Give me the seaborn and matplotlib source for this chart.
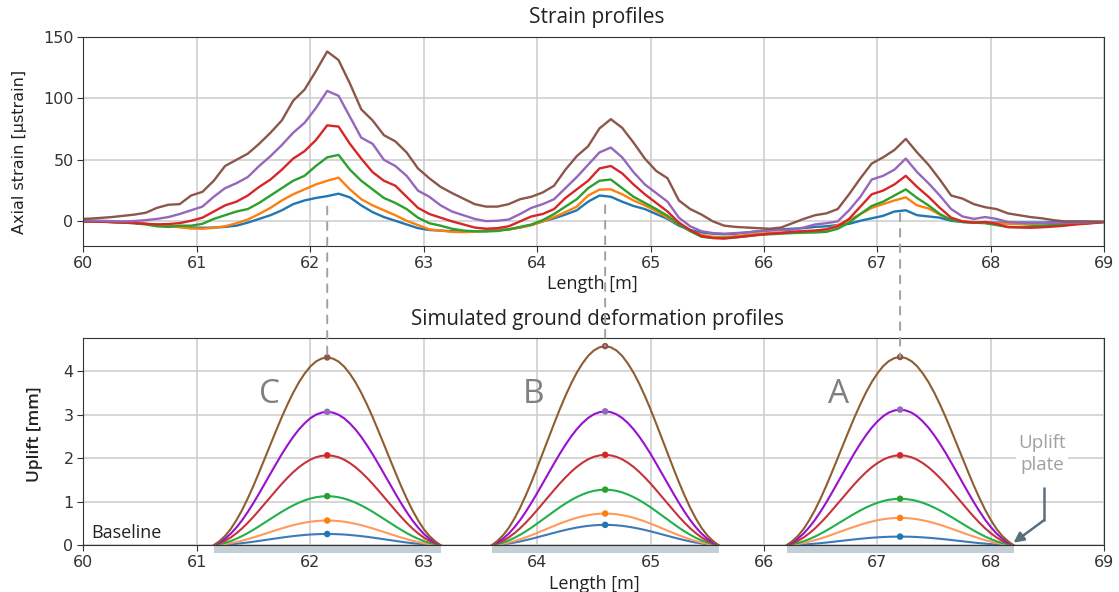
import numpy as np
import pandas as pd
import matplotlib
matplotlib.use("Agg")
import matplotlib.pyplot as plt
from matplotlib.patches import ConnectionPatch, Rectangle
import seaborn as sns

# ---------------- data ----------------
# Top panel: strain profiles, sampled at 60.0, 60.05, 60.15, ..., 68.95, 69.0 m
LENGTH_TOP = [60.0] + [round(60.05 + 0.1 * k, 2) for k in range(90)] + [69.0]

STRAIN_BLUE = [0,
    0, -0.2, -0.5, -0.8, -1.2, -2, -3, -3.8, -4.5, -5,
    -5.2, -5, -4.5, -3.5, -1, 2, 5, 9, 14, 17,
    19, 20.5, 22.5, 19.5, 13, 7.5, 3.5, 0.5, -2.5, -5.5,
    -7, -7.5, -8, -8.2, -8, -7.8, -7.2, -6.5, -5, -3,
    0, 2.5, 5.5, 9, 16, 21, 20, 16, 12.5, 10,
    6, 2, -3.5, -7, -9, -10, -10.5, -10, -9, -8,
    -7, -6.5, -6, -5.5, -4.5, -4, -3, -2, 0.5, 2.5,
    4.5, 8, 9, 5, 4, 3, 0.5, -0.5, -1, -1,
    -1, -1, -1, -1, -1, -0.8, -0.5, -0.5, -0.5, -0.3,
    -0.3]
STRAIN_ORANGE = [0,
    0, -0.2, -0.5, -0.8, -1.2, -2, -3, -4, -4.8, -5.8,
    -6, -5.2, -4, -1.5, 1.5, 6, 11, 17, 22, 26,
    30, 33, 35.5, 26, 18, 13, 9, 5, 0.5, -3,
    -6.5, -7.5, -8.5, -8.7, -8.3, -7.8, -7.2, -6.5, -5, -3,
    0, 3.5, 7.5, 12, 21, 25.8, 26, 22, 17, 13,
    8.5, 3, -2.5, -7.5, -11, -12.5, -12.8, -12, -11, -10,
    -9.5, -9, -8.5, -8, -7.5, -6.5, -3, 1, 6, 11,
    14, 17, 19.5, 13, 10.5, 5.5, 1.5, 0, -0.5, -1,
    -1.5, -2, -2, -2, -1.8, -1.5, -1.2, -1, -0.8, -0.5,
    -0.5]
STRAIN_GREEN = [0,
    0, -0.2, -0.5, -1, -1.5, -2.5, -4, -4.5, -3.5, -3.5,
    -2, 2, 5, 8, 10, 15, 21, 27, 33, 37,
    45, 52, 54, 42, 33, 26, 19, 15, 10, 3,
    -1.5, -3.5, -6, -7.5, -8, -8.2, -7.8, -6.5, -4.5, -2.5,
    1, 6, 12, 18, 27, 33, 34, 27, 20, 15,
    10, 4.5, -2.5, -8, -12.5, -13.5, -13.5, -13, -12, -11,
    -10.5, -10, -9.5, -9.2, -9, -8.5, -6, -1, 6, 12.5,
    16, 21, 26, 19, 13, 6, 1, -0.5, -1, -1.5,
    -3, -4.6, -4.5, -4, -3.5, -3, -2.5, -2, -1.5, -1,
    -0.5]
STRAIN_RED = [0,
    0, -0.3, -0.6, -1, -1.4, -2, -2.4, -2.2, -1.4, 0.5,
    3, 8, 13, 16, 21, 28, 34, 42, 51, 57,
    66, 78, 77, 63, 51, 40, 33, 29, 20, 11,
    6, 3, 0, -2.5, -5, -6, -5.5, -4, 0, 4,
    6, 10, 19, 26, 33, 43, 45, 39, 30, 22,
    15, 8, -1, -7, -12, -13.5, -14, -13, -12, -11,
    -10, -9.5, -8.5, -8, -7.5, -6.5, -4, 2, 12, 22,
    25, 30, 37, 28, 20, 11, 3, 0, -1, -0.5,
    -2, -4.6, -5, -5.2, -4.8, -4.2, -3.5, -2.5, -1.8, -1,
    -0.5]
STRAIN_PURPLE = [0.8,
    0.8, 0.5, 0.2, 0, 0.3, 1, 2, 3.5, 6, 9,
    12, 20, 27, 31, 36, 45, 53, 62, 72, 80,
    92, 106, 102, 85, 68, 63, 50, 45, 37, 25,
    20, 13, 8, 5, 2, 0.2, 0.5, 1.5, 6, 11,
    14, 18, 27, 36, 46, 56, 60, 52, 40, 30,
    23, 16, 3, -4, -8, -9.5, -10, -9.5, -9, -8,
    -7.5, -7, -6.8, -5, -2.5, -1.5, 0, 9, 20, 34,
    37, 42, 51, 40, 31, 21, 10, 4, 2, 3.5,
    2, -0.5, -1, -1.4, -1.4, -1.2, -1, -1, -0.8, -0.5,
    -0.5]
STRAIN_BROWN = [2,
    2.2, 2.8, 3.5, 4.5, 5.5, 7, 11, 13.5, 14, 21,
    24, 33, 45, 50, 55, 63, 72, 82, 98, 107,
    122, 138, 131, 112, 91, 82, 70, 65, 56, 43,
    35, 28, 23, 18.5, 14, 12, 12, 14, 18, 20,
    23.5, 29, 42, 53, 61, 75.5, 83, 76, 64, 51,
    41, 35, 17, 10, 5.5, 0, -3.5, -4.5, -5, -5.5,
    -6, -5, -1.5, 2, 5, 6.5, 10, 22, 35, 47,
    52, 58, 67, 56, 46, 34, 21, 18.5, 14, 11.5,
    10, 6.5, 5, 3.5, 2.5, 1, 0, 0, 0, -0.3,
    -0.5]

STRAIN_SERIES = {
    "1": STRAIN_BLUE, "2": STRAIN_ORANGE, "3": STRAIN_GREEN,
    "4": STRAIN_RED, "5": STRAIN_PURPLE, "6": STRAIN_BROWN,
}

# Bottom panel: simulated uplift over three 2 m uplift plates
PLATE_NAMES = ["C", "B", "A"]
PLATE_CENTERS = [62.15, 64.6, 67.2]
PLATE_HALF_WIDTH = 1.0
# peak uplift [mm] per load step (blue, orange, green, red, purple, brown)
PEAK_C = [0.26, 0.57, 1.13, 2.07, 3.07, 4.32]
PEAK_B = [0.47, 0.73, 1.28, 2.08, 3.08, 4.58]
PEAK_A = [0.20, 0.63, 1.07, 2.07, 3.12, 4.33]
# normalised half-profile of the uplift bell, from centre (0) to plate edge (1), step 0.05
HALF_SHAPE = [1.0, 0.994, 0.978, 0.951, 0.913, 0.867, 0.812, 0.750, 0.683, 0.611,
              0.537, 0.463, 0.389, 0.317, 0.250, 0.188, 0.134, 0.087, 0.050, 0.022, 0.0]

LEVELS = ["1", "2", "3", "4", "5", "6"]
TOP_COLORS = ["#1f77b4", "#ff7f0e", "#2ca02c", "#d62728", "#9467bd", "#8c564b"]
BOTTOM_COLORS = ["#3d7ab8", "#ff9a5c", "#20b04c", "#c8323a", "#9a10d0", "#8e5d30"]

# ---------------- style ----------------
sns.set_style("whitegrid", {
    "axes.edgecolor": "#333333",
    "grid.color": "#cccccc",
    "xtick.bottom": True,
    "ytick.left": True,
    "axes.linewidth": 1.2,
})
plt.rcParams["font.family"] = ["DejaVu Sans"]
plt.rcParams["xtick.major.size"] = 4
plt.rcParams["ytick.major.size"] = 4
plt.rcParams["xtick.color"] = "#333333"
plt.rcParams["ytick.color"] = "#333333"

W, H = 1119, 592
fig = plt.figure(figsize=(W / 100, H / 100), dpi=100)

def rect(l, t, r, b):
    return [l / W, 1 - b / H, (r - l) / W, (b - t) / H]

ax1 = fig.add_axes(rect(83.3, 36.7, 1104.3, 246))
ax2 = fig.add_axes(rect(83.3, 338.3, 1104.3, 545.3))

# ---- top panel ----
top_rows = []
for lev in LEVELS:
    for x, v in zip(LENGTH_TOP, STRAIN_SERIES[lev]):
        top_rows.append({"Length": x, "Strain": v, "level": lev})
top_df = pd.DataFrame(top_rows)
sns.lineplot(data=top_df, x="Length", y="Strain", hue="level", hue_order=LEVELS,
             palette=TOP_COLORS, linewidth=1.7, legend=False, ax=ax1,
             estimator=None, sort=False)
ax1.set_xlim(60, 69)
ax1.set_ylim(-20, 150)
ax1.set_xticks(range(60, 70))
ax1.set_yticks([0, 50, 100, 150])
ax1.set_xlabel("")
ax1.set_ylabel("")
ax1.tick_params(labelsize=11.5, pad=3)
ax1.grid(True, color="#cccccc", linewidth=1.1)

# ---- bottom panel ----
half_offsets = np.linspace(0, PLATE_HALF_WIDTH, len(HALF_SHAPE))
offsets = np.concatenate([-half_offsets[::-1], half_offsets[1:]])
shape = np.concatenate([np.array(HALF_SHAPE[::-1]), np.array(HALF_SHAPE[1:])])
peaks = {"C": PEAK_C, "B": PEAK_B, "A": PEAK_A}

bot_rows = []
for name, c in zip(PLATE_NAMES, PLATE_CENTERS):
    for lev, pk in zip(LEVELS, peaks[name]):
        for o, s in zip(offsets, shape):
            bot_rows.append({"Length": c + o, "Uplift": pk * s, "level": lev, "plate": name})
bot_df = pd.DataFrame(bot_rows)

for name, c in zip(PLATE_NAMES, PLATE_CENTERS):
    ax2.add_patch(Rectangle((c - PLATE_HALF_WIDTH, -0.18), 2 * PLATE_HALF_WIDTH, 0.18,
                            facecolor="#c3ced6", edgecolor="none", clip_on=False, zorder=1.5))

sns.lineplot(data=bot_df, x="Length", y="Uplift", hue="level", hue_order=LEVELS,
             units="plate", estimator=None, palette=BOTTOM_COLORS, linewidth=1.5,
             legend=False, ax=ax2, sort=False)

peak_rows = []
for name, c in zip(PLATE_NAMES, PLATE_CENTERS):
    for lev, pk in zip(LEVELS, peaks[name]):
        peak_rows.append({"Length": c, "Uplift": pk, "level": lev})
peak_df = pd.DataFrame(peak_rows)
sns.scatterplot(data=peak_df, x="Length", y="Uplift", hue="level", hue_order=LEVELS,
                palette=TOP_COLORS, s=22, edgecolor="none", legend=False, ax=ax2, zorder=4)

ax2.set_xlim(60, 69)
ax2.set_ylim(0, 4.76)
ax2.set_xticks(range(60, 70))
ax2.set_yticks([0, 1, 2, 3, 4])
ax2.set_xlabel("")
ax2.set_ylabel("")
ax2.tick_params(labelsize=11.5, pad=3)
ax2.grid(True, color="#cccccc", linewidth=1.1)
for sp in ax2.spines.values():
    sp.set_zorder(3)

# plate letters
for name, lx in zip(PLATE_NAMES, [61.64, 63.97, 66.66]):
    ax2.text(lx, 3.47, name, fontsize=24, color="#808080", family="Open Sans",
             ha="center", va="center")

ax2.text(60.07, 0.28, "Baseline", fontsize=13, color="#222222", family="Open Sans",
         ha="left", va="center")
ax2.text(68.45, 2.1, "Uplift\nplate", fontsize=13.5, color="#a0a0a0", family="Open Sans",
         ha="center", va="center", linespacing=1.3,
         bbox=dict(facecolor="white", edgecolor="none", pad=1.5))
ax2.plot([68.47, 68.47], [1.33, 0.57], color="#5a6e7e", linewidth=1.8, solid_capstyle="butt")
ax2.annotate("", xy=(68.2, 0.06), xytext=(68.47, 0.58),
             arrowprops=dict(arrowstyle="-|>,head_length=0.6,head_width=0.3",
                             color="#5a6e7e", linewidth=1.8, shrinkA=0, shrinkB=0))

# dashed connectors from strain peaks to uplift peaks
for c, y_top, name in zip(PLATE_CENTERS, [12, 13, 6.5], PLATE_NAMES):
    con = ConnectionPatch(xyA=(c, y_top), coordsA=ax1.transData,
                          xyB=(c, max(peaks[name])), coordsB=ax2.transData,
                          linestyle=(0, (4, 4)), color="#a0a0a0", linewidth=1.4, zorder=5)
    fig.add_artist(con)

# titles and labels
fig.text(597 / W, 1 - 18 / H, "Strain profiles", fontsize=15, family="Open Sans",
         ha="center", va="center", color="#222222")
fig.text(592 / W, 1 - 284 / H, "Length [m]", fontsize=13, family="Open Sans",
         ha="center", va="center", color="#222222")
fig.text(597 / W, 1 - 320 / H, "Simulated ground deformation profiles", fontsize=14.8,
         family="Open Sans", ha="center", va="center", color="#222222")
fig.text(594 / W, 1 - 584 / H, "Length [m]", fontsize=13, family="Open Sans",
         ha="center", va="center", color="#222222")
fig.text(20 / W, 1 - 152 / H, "Axial strain [µstrain]", fontsize=11.5, rotation=90,
         ha="center", va="center", color="#222222")
fig.text(35 / W, 1 - 434 / H, "Uplift [mm]", fontsize=12.5, rotation=90, family="Open Sans",
         fontweight="semibold", ha="center", va="center", color="#222222")

fig.savefig("out.png", dpi=100)
